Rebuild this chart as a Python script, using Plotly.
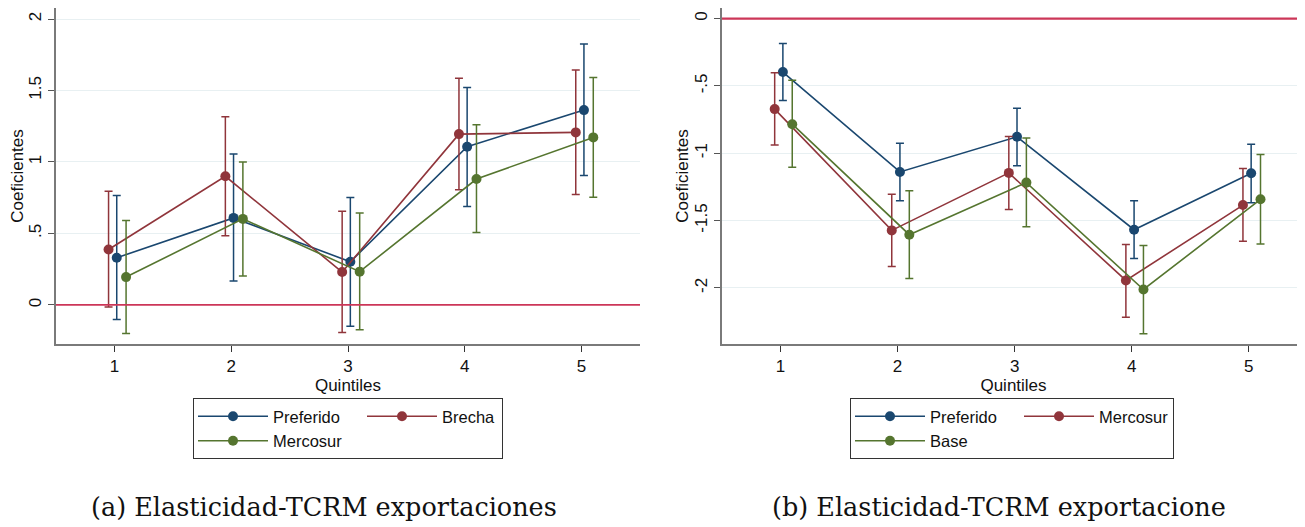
import numpy as np
import plotly.graph_objects as go

# ---------------- data ----------------
QUINTILES = [1, 2, 3, 4, 5]

TICK_VALUES_A = [0, 0.5, 1, 1.5, 2]
TICK_LABELS_A = ["0", ".5", "1", "1.5", "2"]
TICK_VALUES_B = [-2, -1.5, -1, -0.5, 0]
TICK_LABELS_B = ["-2", "-1.5", "-1", "-.5", "0"]
X_TICK_LABELS = ["1", "2", "3", "4", "5"]

# Panel (a): Elasticidad-TCRM exportaciones
A_PREFERIDO = [0.33, 0.609, 0.302, 1.107, 1.363]
A_PREFERIDO_LO = [-0.102, 0.167, -0.149, 0.688, 0.905]
A_PREFERIDO_HI = [0.765, 1.056, 0.751, 1.521, 1.826]
A_BRECHA = [0.388, 0.900, 0.230, 1.195, 1.207]
A_BRECHA_LO = [-0.014, 0.484, -0.193, 0.805, 0.772]
A_BRECHA_HI = [0.795, 1.316, 0.656, 1.586, 1.644]
A_MERCOSUR = [0.195, 0.602, 0.233, 0.881, 1.172]
A_MERCOSUR_LO = [-0.200, 0.202, -0.174, 0.507, 0.753]
A_MERCOSUR_HI = [0.591, 1.000, 0.644, 1.260, 1.591]

# Panel (b): Elasticidad-TCRM exportacione
B_PREFERIDO = [-0.397, -1.139, -0.878, -1.568, -1.149]
B_PREFERIDO_LO = [-0.608, -1.352, -1.092, -1.782, -1.367]
B_PREFERIDO_HI = [-0.184, -0.926, -0.665, -1.352, -0.933]
B_MERCOSUR = [-0.672, -1.573, -1.146, -1.945, -1.385]
B_MERCOSUR_LO = [-0.938, -1.841, -1.417, -2.218, -1.653]
B_MERCOSUR_HI = [-0.402, -1.305, -0.876, -1.677, -1.114]
B_BASE = [-0.784, -1.605, -1.218, -2.012, -1.342]
B_BASE_LO = [-1.104, -1.931, -1.546, -2.340, -1.675]
B_BASE_HI = [-0.457, -1.278, -0.886, -1.685, -1.010]

REF_VALUE = 0

CAPTION_A = "(a) Elasticidad-TCRM exportaciones"
CAPTION_B = "(b) Elasticidad-TCRM exportacione"

# ---------------- styles ----------------
PAGE_MARGIN = 8                      # default body margin of the html page
W, H = 1305 - PAGE_MARGIN, 527 - PAGE_MARGIN
NAVY = "#1a476f"
MAROON = "#90353b"
GREEN = "#55752f"
REF_COLOR = "#cc3658"
GRID = "#e8f0f2"
AXIS = "#7a7a7a"
SANS = "Liberation Sans, Arial, sans-serif"
SERIF = "DejaVu Serif, serif"
FS = 17

OFFSET = {"blue": 0.02, "red": -0.05, "green": 0.10}


def px_x(p):
    """page pixel -> paper fraction"""
    return (p - PAGE_MARGIN) / W


def px_y(p):
    return 1 - (p - PAGE_MARGIN) / H


fig = go.Figure()


def add_series(name, vals, lo, hi, color, off, xaxis, yaxis, legend, group, lw):
    v = np.array(vals)
    fig.add_trace(go.Scatter(
        x=np.array(QUINTILES) + off, y=v, name=name, mode="lines+markers",
        line=dict(color=color, width=1.6),
        marker=dict(color=color, size=10, symbol="circle"),
        error_y=dict(type="data", symmetric=False,
                     array=np.array(hi) - v, arrayminus=v - np.array(lo),
                     color=color, thickness=1.5, width=4),
        xaxis=xaxis, yaxis=yaxis, legend=legend, legendgroup=group,
        legendwidth=lw, hoverinfo="x+y+name",
    ))


# panel a
add_series("Preferido", A_PREFERIDO, A_PREFERIDO_LO, A_PREFERIDO_HI, NAVY, OFFSET["blue"], "x", "y", "legend", "a1", 84)
add_series("Brecha", A_BRECHA, A_BRECHA_LO, A_BRECHA_HI, MAROON, OFFSET["red"], "x", "y", "legend", "a2", 55)
add_series("Mercosur", A_MERCOSUR, A_MERCOSUR_LO, A_MERCOSUR_HI, GREEN, OFFSET["green"], "x", "y", "legend", "a1", 84)
# panel b
add_series("Preferido", B_PREFERIDO, B_PREFERIDO_LO, B_PREFERIDO_HI, NAVY, OFFSET["blue"], "x2", "y2", "legend2", "b1", 84)
add_series("Mercosur", B_MERCOSUR, B_MERCOSUR_LO, B_MERCOSUR_HI, MAROON, OFFSET["red"], "x2", "y2", "legend2", "b2", 69)
add_series("Base", B_BASE, B_BASE_LO, B_BASE_HI, GREEN, OFFSET["green"], "x2", "y2", "legend2", "b1", 84)

tickfont = dict(family=SANS, size=FS, color="#111")
titlefont = dict(family=SANS, size=FS, color="#111")

xcommon = dict(tickvals=QUINTILES, ticktext=X_TICK_LABELS,
               showline=True, linecolor=AXIS, linewidth=1.5, ticks="outside",
               ticklen=6, tickcolor="#333", tickwidth=1.2, showgrid=False,
               zeroline=False, tickfont=tickfont, fixedrange=True)
ycommon = dict(showline=True, linecolor=AXIS, linewidth=1.5, ticks="outside",
               ticklen=6, tickcolor="#555", tickwidth=1.2, showgrid=True,
               gridcolor=GRID, gridwidth=1, zeroline=False, tickfont=tickfont,
               tickangle=-90, fixedrange=True)

ydom = [px_y(344), px_y(8)]
legfont = dict(family=SANS, size=16.5, color="#111")

fig.update_layout(
    width=W, height=H,
    margin=dict(l=0, r=0, t=0, b=0),
    paper_bgcolor="white", plot_bgcolor="white",
    xaxis=dict(**xcommon, anchor="y", range=[0.5, 5.5], domain=[px_x(56), px_x(640)],
               title=dict(text="Quintiles", font=titlefont, standoff=0)),
    yaxis=dict(**ycommon, anchor="x", domain=ydom, range=[-0.273, 2.077],
               tickvals=TICK_VALUES_A, ticktext=TICK_LABELS_A,
               title=dict(text="Coeficientes", font=titlefont, standoff=0)),
    xaxis2=dict(**xcommon, anchor="y2", range=[0.5, 5.48], domain=[px_x(722), 1.0],
                title=dict(text="Quintiles", font=titlefont, standoff=0)),
    yaxis2=dict(**ycommon, anchor="x2", domain=ydom, range=[-2.417, 0.079],
                tickvals=TICK_VALUES_B, ticktext=TICK_LABELS_B,
                title=dict(text="Coeficientes", font=titlefont, standoff=0)),
    legend=dict(x=px_x(193), y=px_y(398), xanchor="left", yanchor="top",
                orientation="h", traceorder="grouped", tracegroupgap=0,
                bordercolor="#333", borderwidth=1, bgcolor="white",
                itemwidth=70, font=legfont),
    legend2=dict(x=px_x(850), y=px_y(398), xanchor="left", yanchor="top",
                 orientation="h", traceorder="grouped", tracegroupgap=0,
                 bordercolor="#333", borderwidth=1, bgcolor="white",
                 itemwidth=70, font=legfont),
    showlegend=True,
    shapes=[
        dict(type="line", xref="x domain", yref="y", x0=0, x1=1, y0=REF_VALUE, y1=REF_VALUE,
             line=dict(color=REF_COLOR, width=1.8), layer="above"),
        dict(type="line", xref="x2 domain", yref="y2", x0=0, x1=1, y0=REF_VALUE, y1=REF_VALUE,
             line=dict(color=REF_COLOR, width=2.4), layer="above"),
    ],
    annotations=[
        dict(text=CAPTION_A, xref="paper", yref="paper", x=px_x(324), y=px_y(507),
             xanchor="center", yanchor="middle", showarrow=False,
             font=dict(family=SERIF, size=25.5, color="#111")),
        dict(text=CAPTION_B, xref="paper", yref="paper", x=px_x(999), y=px_y(507),
             xanchor="center", yanchor="middle", showarrow=False,
             font=dict(family=SERIF, size=25.5, color="#111")),
    ],
)

fig.write_html("out.html")
